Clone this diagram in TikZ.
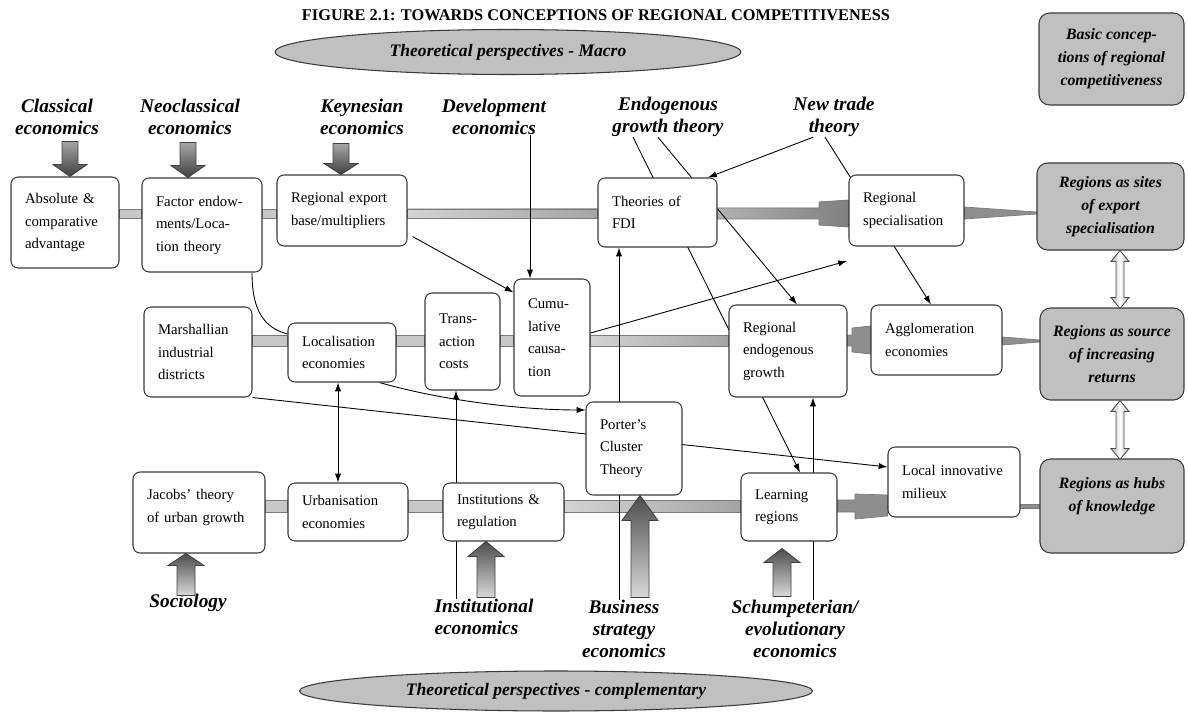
\documentclass[tikz,border=0pt]{standalone}
\usepackage{fontspec}
\setmainfont{Liberation Serif}
\usetikzlibrary{positioning, arrows.meta, calc, shapes.geometric}
\definecolor{boxline}{HTML}{3A3A3A}
\definecolor{greyfill}{HTML}{C0C0C0}
\definecolor{barfill}{HTML}{C8C8C8}
\definecolor{bardark}{HTML}{8E8E8E}
\definecolor{barline}{HTML}{7A7A7A}
\pgfdeclarelayer{bars}
\pgfdeclarelayer{links}
\pgfsetlayers{bars,links,main}

% block arrows: tip, shaft length, head length
\newcommand\blockup[3]{\path[blockup] #1 -- ++(18,#3) -- ++(-9,0) -- ++(0,#2) -- ++(-18,0) -- ++(0,-#2) -- ++(-9,0) -- cycle;}
\newcommand\blockdown[3]{\path[blockdown] #1 -- ++(17,-#3) -- ++(-9,0) -- ++(0,-#2) -- ++(-16,0) -- ++(0,#2) -- ++(-9,0) -- cycle;}
% hollow double arrow: top tip, length
\newcommand\dblarrow[2]{\path[hollow] #1 -- ++(9,11) -- ++(-5,0) -- ++(0,#2-22) -- ++(5,0) -- ++(-9,11) -- ++(-9,-11) -- ++(5,0) -- ++(0,22-#2) -- ++(-5,0) -- cycle;}

\begin{document}
\begin{tikzpicture}[x=0.02cm, y=-0.02cm,
    box/.style={rectangle, draw=boxline, line width=0.6pt, fill=white, rounded corners=4pt,
                align=left, inner xsep=0.28cm, inner ysep=2pt, font=\fontsize{8.4}{12.8}\selectfont},
    greybox/.style={rectangle, draw=boxline, line width=0.6pt, fill=greyfill, rounded corners=6pt,
                align=center, font=\bfseries\itshape\fontsize{9}{13}\selectfont},
    lab/.style={align=center, inner sep=0pt, font=\bfseries\itshape\fontsize{11}{12.6}\selectfont},
    persp/.style={ellipse, draw=boxline, line width=0.6pt, fill=greyfill, inner sep=0pt,
                font=\bfseries\itshape\fontsize{10}{12}\selectfont},
    link/.style={-{Latex[length=5pt,width=3.5pt]}, line width=0.5pt},
    dlink/.style={{Latex[length=5pt,width=3.5pt]}-{Latex[length=5pt,width=3.5pt]}, line width=0.5pt},
    bar/.style={draw=barline, line width=0.4pt, fill=barfill},
    longbar/.style={draw=barline, line width=0.4pt, left color=barfill!80, right color=bardark!80},
    darkbar/.style={draw=barline, line width=0.4pt, fill=bardark},
    blockup/.style={draw=black!75, line width=0.5pt, top color=black!70, bottom color=black!15},
    blockdown/.style={draw=black!75, line width=0.5pt, top color=black!35, bottom color=black!75},
    hollow/.style={draw=black!70, line width=0.5pt, left color=black!30, right color=black!30, middle color=white}
  ]
    \useasboundingbox (0,0) rectangle (1188,713);

    % title and perspectives
    \node[font=\bfseries\fontsize{9.3}{11}\selectfont] (title) at (596,15) {FIGURE 2.1: TOWARDS CONCEPTIONS OF REGIONAL COMPETITIVENESS};
    \node[persp, minimum width=9.32cm, minimum height=0.9cm] (macro) at (508,52) {Theoretical perspectives - Macro};
    \node[persp, minimum width=10.26cm, minimum height=0.8cm] (compl) at (556,691) {Theoretical perspectives - complementary};

    % schools of thought
    \node[lab] (classical) at (57,117) {Classical\\economics};
    \node[lab] (neoclass) at (190,117) {Neoclassical\\economics};
    \node[lab] (keynes) at (362,117) {Keynesian\\economics};
    \node[lab] (devel) at (494,117) {Development\\economics};
    \node[lab] (endog) at (668,117) {Endogenous\\growth theory};
    \node[lab] (newtrade) at (834,117) {New trade\\theory};
    \node[lab] (sociology) at (188,603) {Sociology};
    \node[lab, align=left] (institut) at (484,617) {Institutional\\economics};
    \node[lab] (business) at (624,629) {Business\\strategy\\economics};
    \node[lab] (schump) at (795,629) {Schumpeterian/\\evolutionary\\economics};

    % first row
    \node[box, minimum width=2.16cm, minimum height=1.82cm, text width=1.60cm] (abs) at (65,222.5) {Absolute \&\\comparative\\advantage};
    \node[box, minimum width=2.40cm, minimum height=1.88cm, text width=1.84cm] (factor) at (202,225) {Factor endow-\\ments/Loca-\\tion theory};
    \node[box, minimum width=2.60cm, minimum height=1.42cm, text width=2.04cm] (export) at (342,210.5) {Regional export\\base/multipliers};
    \node[box, minimum width=2.38cm, minimum height=1.38cm, text width=1.82cm] (fdi) at (657.5,212.5) {Theories of\\FDI};
    \node[box, minimum width=2.30cm, minimum height=1.42cm, text width=1.74cm] (spec) at (906.5,210.5) {Regional\\specialisation};

    % second row
    \node[box, minimum width=2.16cm, minimum height=1.80cm, text width=1.60cm] (marsh) at (198,352) {Marshallian\\industrial\\districts};
    \node[box, minimum width=2.16cm, minimum height=1.18cm, text width=1.60cm] (loc) at (342,352.5) {Localisation\\economies};
    \node[box, minimum width=1.50cm, minimum height=1.94cm, text width=0.94cm] (trans) at (462.5,341.5) {Trans-\\action\\costs};
    \node[box, minimum width=1.52cm, minimum height=2.34cm, text width=0.96cm] (cum) at (552,337.5) {Cumu-\\lative\\causa-\\tion};
    \node[box, minimum width=2.36cm, minimum height=1.84cm, text width=1.80cm] (regendo) at (788,351) {Regional\\endogenous\\growth};
    \node[box, minimum width=2.62cm, minimum height=1.40cm, text width=2.06cm] (agg) at (936.5,340) {Agglomeration\\economies};
    \node[box, minimum width=1.92cm, minimum height=1.86cm, text width=1.36cm] (porter) at (634,448.5) {Porter’s\\Cluster\\Theory};

    % third row
    \node[box, minimum width=2.64cm, minimum height=1.62cm, text width=2.08cm] (jacobs) at (199,512.5) {Jacobs’ theory\\of urban growth\\[-5pt]\mbox{}};
    \node[box, minimum width=2.40cm, minimum height=1.16cm, text width=1.84cm] (urb) at (348,512) {Urbanisation\\economies};
    \node[box, minimum width=2.42cm, minimum height=1.16cm, text width=1.86cm] (inst) at (503.5,512) {Institutions \&\\regulation};
    \node[box, minimum width=1.92cm, minimum height=1.36cm, text width=1.36cm] (learn) at (789,507) {Learning\\regions};
    \node[box, minimum width=2.64cm, minimum height=1.40cm, text width=2.08cm] (milieu) at (954,482) {Local innovative\\milieux};

    % basic conceptions
    \node[greybox, minimum width=2.90cm, minimum height=1.84cm] (basic) at (1111.5,59) {Basic concep-\\tions of regional\\competitiveness};
    \node[greybox, minimum width=2.94cm, minimum height=1.74cm] (sites) at (1110.5,206.5) {Regions as sites\\of export\\specialisation};
    \node[greybox, minimum width=2.88cm, minimum height=1.84cm] (source) at (1112,354) {Regions as source\\of increasing\\returns};
    \node[greybox, minimum width=2.88cm, minimum height=1.88cm] (hubs) at (1112,506) {Regions as hubs\\of knowledge\\\mbox{}};

    % block arrows
    \blockdown{(70,0 |- abs.north)}{23}{12}
    \blockdown{(188,0 |- factor.north)}{23}{12}
    \blockdown{(341,0 |- export.north)}{20}{11}
    \blockup{(186,0 |- jacobs.south)}{30}{12}
    \blockup{(486,0 |- inst.south)}{41}{15}
    \blockup{(640,0 |- porter.south)}{77}{25}
    \blockup{($(learn.south -| 782,0)+(0,7)$)}{34}{14}
    \dblarrow{(sites.south -| 1120,0)}{58}
    \dblarrow{(source.south -| 1120,0)}{59}

    % thin links
    \begin{pgfonlayer}{links}
      \draw[link] (devel.south -| 530,0) -- (cum.north -| 530,0);
      \draw[link] ($(export.south east)+(5,-10)$) -- ($(cum.north west)+(0,14)$);
      \draw[line width=0.5pt] (factor.south -| 252,0) .. controls (252,312) and (265,328) .. (loc.west |- 0,334);
      \draw[dlink] (loc.south -| 338,0) -- (urb.north -| 338,0);
      \draw[link] ($(loc.south east)+(-17,0)$) .. controls (440,400) and (520,410) .. (porter.west |- 0,410);
      \draw[link] (marsh.south east) -- (milieu.west |- 0,467);
      \draw[link] (cum.east |- 0,333) -- (847,261) coordinate (cumend);
      \draw[link] (institut.north -| 456,0) -- (trans.south -| 456,0);
      \draw[link] (business.north -| 619,0) -- (fdi.south -| 619,0);
      \draw[link] (schump.north -| 813,0) -- (regendo.south -| 813,0);
      \draw[link] (endog.south -| 633,0) -- (learn.north -| 800,0);
      \draw[link] (endog.south -| 658,0) -- (regendo.north -| 797,0);
      \draw[link] (newtrade.south -| 813,0) -- (fdi.north -| 708,0);
      \draw[link] (newtrade.south -| 825,0) -- (agg.north -| 931,0);
    \end{pgfonlayer}

    % grey bars between the boxes
    \begin{pgfonlayer}{bars}
      \path[bar] (abs.east |- 0,209) rectangle (factor.west |- 0,218);
      \path[bar] (factor.east |- 0,209) rectangle (export.west |- 0,218);
      \path[longbar] (export.east |- 0,209) rectangle (fdi.west |- 0,218);
      \path[darkbar, left color=black!30, right color=black!50] (fdi.east |- 0,208) -- (819,208) -- (819,202) -- (spec.west |- 0,200)
        -- (spec.west |- 0,227) -- (819,225) -- (819,219) -- (fdi.east |- 0,219) -- cycle;
      \path[darkbar] (spec.east |- 0,207) -- (sites.west |- 0,212) -- (sites.west |- 0,214) -- (spec.east |- 0,219) -- cycle;

      \path[bar] (marsh.east |- 0,335) rectangle (loc.west |- 0,346);
      \path[bar] (loc.east |- 0,335) rectangle (trans.west |- 0,346);
      \path[bar] (trans.east |- 0,335) rectangle (cum.west |- 0,346);
      \path[longbar] (cum.east |- 0,335) rectangle (regendo.west |- 0,346);
      \path[darkbar] (regendo.east |- 0,335) -- (852,335) -- (852,328) -- (agg.west |- 0,326)
        -- (agg.west |- 0,354) -- (852,352) -- (852,346) -- (regendo.east |- 0,346) -- cycle;
      \path[darkbar] (agg.east |- 0,337) -- (source.west |- 0,340) -- (source.west |- 0,342) -- (agg.east |- 0,345) -- cycle;

      \path[bar] (jacobs.east |- 0,500) rectangle (urb.west |- 0,512);
      \path[bar] (urb.east |- 0,500) rectangle (inst.west |- 0,512);
      \path[longbar] (inst.east |- 0,500) rectangle (learn.west |- 0,512);
      \path[darkbar] (learn.east |- 0,500) -- (855,500) -- (855,494) -- (milieu.west |- 0,495)
        -- (milieu.west |- 0,516) -- (855,519) -- (855,512) -- (learn.east |- 0,512) -- cycle;
      \path[darkbar] (milieu.east |- 0,504) rectangle (hubs.west |- 0,508);
    \end{pgfonlayer}
  \end{tikzpicture}
\end{document}
